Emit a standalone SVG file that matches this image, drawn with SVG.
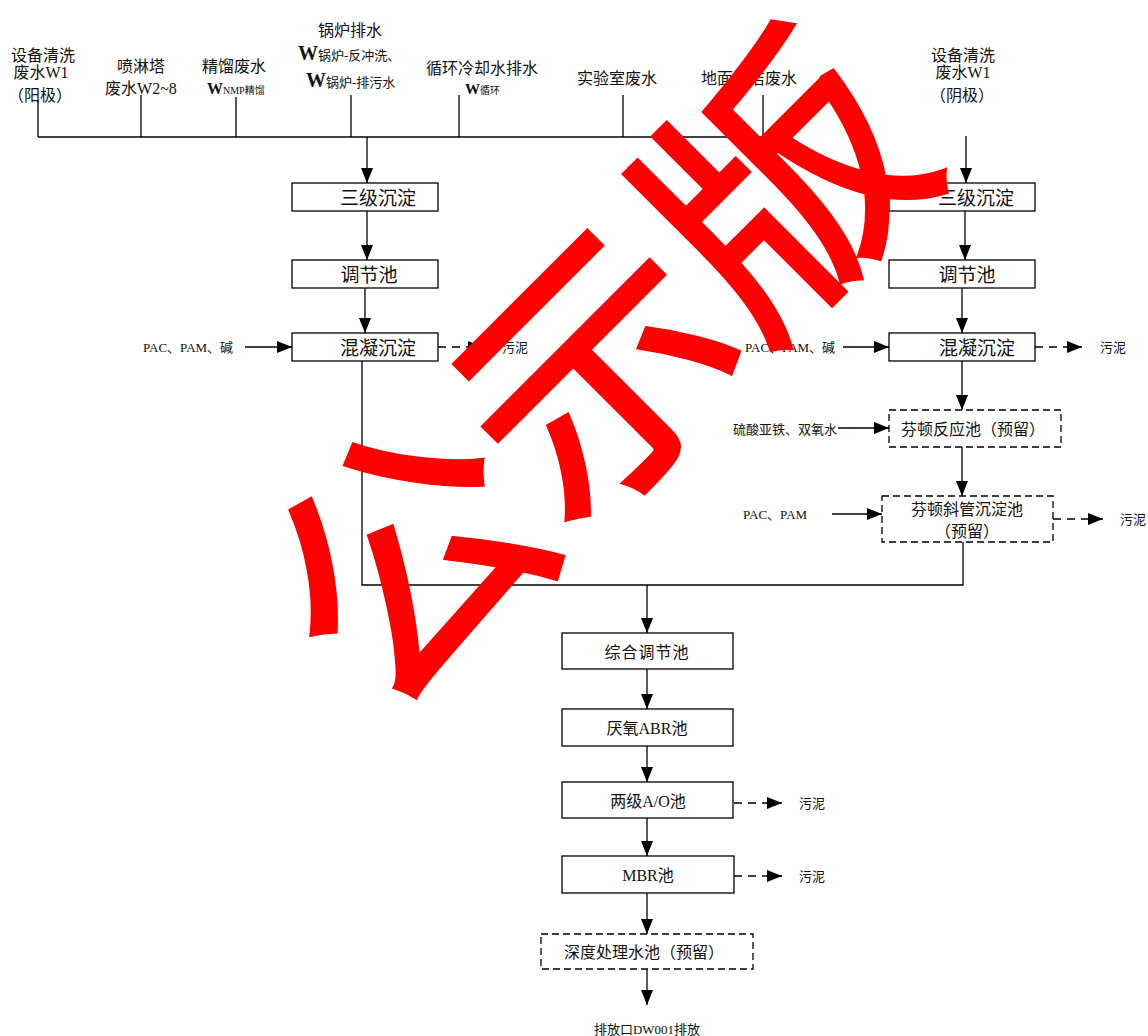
<svg xmlns="http://www.w3.org/2000/svg" width="1148" height="1036" viewBox="0 0 1148 1036">
<style>
  .t { font-family: "Liberation Serif", "Noto Sans CJK SC", serif; fill: #111; }
  .lbl { font-size: 16px; text-anchor: middle; }
  .box { fill: #fff; stroke: #000; stroke-width: 1.3; }
  .dbox { fill: #fff; stroke: #000; stroke-width: 1.3; stroke-dasharray: 7 4; }
  .bt { font-size: 19px; text-anchor: middle; }
  .bt16 { font-size: 16px; text-anchor: middle; }
  .sm { font-size: 13px; }
  .ln { fill: none; stroke: #000; stroke-width: 1.3; }
  .ar { fill: none; stroke: #000; stroke-width: 1.3; marker-end: url(#ah); }
  .da { fill: none; stroke: #000; stroke-width: 1.3; stroke-dasharray: 8 6; marker-end: url(#ah); }
  .wm { font-family: "Noto Sans CJK SC", sans-serif; font-weight: normal; font-size: 266px; fill: #ff0000; stroke: #ff0000; stroke-width: 5; stroke-linejoin: miter; text-anchor: middle; dominant-baseline: central; }
</style>
<defs>
  <marker id="ah" markerUnits="userSpaceOnUse" markerWidth="15" markerHeight="12" refX="15" refY="6" orient="auto">
    <path d="M0,0 L15,6 L0,12 z" fill="#000"/>
  </marker>
</defs>
<rect width="1148" height="1036" fill="#fff"/>

<g id="sources">
  <g id="src-w1-anode" class="t lbl">
    <text x="43" y="61">设备清洗</text>
    <text x="41" y="78">废水W1</text>
    <text x="40" y="101">（阳极）</text>
  </g>
  <g id="src-spray" class="t lbl">
    <text x="141" y="72">喷淋塔</text>
    <text x="141" y="94">废水W2~8</text>
  </g>
  <g id="src-nmp" class="t">
    <text x="234" y="72" class="lbl">精馏废水</text>
    <text x="207" y="94"><tspan font-size="16" font-weight="bold">W</tspan><tspan font-size="10">NMP精馏</tspan></text>
  </g>
  <g id="src-boiler" class="t">
    <text x="350" y="36" class="lbl">锅炉排水</text>
    <text x="298" y="60"><tspan font-size="20" font-weight="bold">W</tspan><tspan font-size="13">锅炉-反冲洗、</tspan></text>
    <text x="306" y="87"><tspan font-size="20" font-weight="bold">W</tspan><tspan font-size="13">锅炉-排污水</tspan></text>
  </g>
  <g id="src-cooling" class="t">
    <text x="482" y="74" class="lbl">循环冷却水排水</text>
    <text x="465" y="94"><tspan font-size="15" font-weight="bold">W</tspan><tspan font-size="10">循环</tspan></text>
  </g>
  <g id="src-lab" class="t lbl">
    <text x="617" y="84">实验室废水</text>
  </g>
  <g id="src-floor" class="t lbl">
    <text x="749" y="84">地面清洁废水</text>
  </g>
  <g id="src-w1-cathode" class="t lbl">
    <text x="963" y="61">设备清洗</text>
    <text x="963" y="78">废水W1</text>
    <text x="962" y="101">（阴极）</text>
  </g>
</g>

<g id="connectors">
  <path class="ln" d="M38,100 V137 M141,95 V137 M236,97 V137 M351,95 V137 M459,95 V137 M623,95 V137 M763,95 V137"/>
  <path class="ln" d="M38,137 H763"/>
  <path class="ar" d="M367,137 V183"/>
  <path class="ar" d="M966,136 V183"/>
  <path class="ar" d="M367,211 V260"/>
  <path class="ar" d="M365,288 V333"/>
  <path class="ar" d="M245,347 H292"/>
  <path class="da" d="M438,347 H483"/>
  <path class="ar" d="M965,211 V260"/>
  <path class="ar" d="M962,288 V333"/>
  <path class="ar" d="M843,347 H889"/>
  <path class="da" d="M1035,347 H1082"/>
  <path class="ar" d="M962,361 V410"/>
  <path class="ar" d="M838,428 H889"/>
  <path class="ar" d="M962,447 V496"/>
  <path class="ar" d="M832,514 H882"/>
  <path class="da" d="M1053,519 H1103"/>
  <path class="ln" d="M362,361 V585 H963 V542"/>
  <path class="ar" d="M647,585 V633"/>
  <path class="ar" d="M647,669 V709"/>
  <path class="ar" d="M647,746 V782"/>
  <path class="da" d="M734,803 H782"/>
  <path class="ar" d="M647,818 V856"/>
  <path class="da" d="M734,876 H782"/>
  <path class="ar" d="M647,893 V934"/>
  <path class="ar" d="M647,969 V1005"/>
</g>

<g id="L-sanji"><rect class="box" x="292" y="183" width="146" height="28"/><text class="t bt" x="378" y="205">三级沉淀</text></g>
<g id="L-tiaojie"><rect class="box" x="292" y="260" width="146" height="28"/><text class="t bt" x="369" y="282">调节池</text></g>
<g id="L-hunning"><rect class="box" x="292" y="333" width="146" height="28"/><text class="t bt" x="378" y="355">混凝沉淀</text></g>
<g id="L-dosing"><text class="t sm" x="143" y="352">PAC、PAM、碱</text></g>
<g id="L-sludge"><text class="t sm" x="502" y="352">污泥</text></g>

<g id="R-sanji"><rect class="box" x="889" y="183" width="146" height="28"/><text class="t bt" x="976" y="205">三级沉淀</text></g>
<g id="R-tiaojie"><rect class="box" x="889" y="260" width="146" height="28"/><text class="t bt" x="967" y="282">调节池</text></g>
<g id="R-hunning"><rect class="box" x="889" y="333" width="146" height="28"/><text class="t bt" x="977" y="355">混凝沉淀</text></g>
<g id="R-dosing"><text class="t sm" x="745" y="352">PAC、PAM、碱</text></g>
<g id="R-sludge1"><text class="t sm" x="1100" y="352">污泥</text></g>
<g id="R-fenton"><rect class="dbox" x="889" y="410" width="172" height="37"/><text class="t bt16" x="973" y="435">芬顿反应池（预留）</text></g>
<g id="R-fenton-dosing"><text class="t sm" x="733" y="434">硫酸亚铁、双氧水</text></g>
<g id="R-fenton-settle"><rect class="dbox" x="882" y="496" width="171" height="46"/><text class="t bt16" x="967" y="515">芬顿斜管沉淀池</text><text class="t bt16" x="967" y="537">（预留）</text></g>
<g id="R-pac"><text class="t sm" x="743" y="519">PAC、PAM</text></g>
<g id="R-sludge2"><text class="t sm" x="1120" y="524">污泥</text></g>

<g id="C-zonghe"><rect class="box" x="562" y="633" width="171" height="36"/><text class="t bt16" x="647" y="658" letter-spacing="1">综合调节池</text></g>
<g id="C-abr"><rect class="box" x="562" y="709" width="171" height="37"/><text class="t bt16" x="647" y="734">厌氧ABR池</text></g>
<g id="C-ao"><rect class="box" x="562" y="782" width="171" height="36"/><text class="t bt16" x="648" y="807">两级A/O池</text></g>
<g id="C-ao-sludge"><text class="t sm" x="799" y="808">污泥</text></g>
<g id="C-mbr"><rect class="box" x="562" y="856" width="172" height="37"/><text class="t bt16" x="648" y="881">MBR池</text></g>
<g id="C-mbr-sludge"><text class="t sm" x="799" y="881">污泥</text></g>
<g id="C-deep"><rect class="dbox" x="541" y="934" width="212" height="35"/><text class="t bt16" x="644" y="958">深度处理水池（预留）</text></g>
<g id="C-outlet"><text class="t sm" x="647" y="1034" text-anchor="middle">排放口DW001排放</text></g>

<g id="watermark">
  <text class="wm" x="583" y="360" transform="rotate(-45 583 360)">公示版</text>
</g>
</svg>
